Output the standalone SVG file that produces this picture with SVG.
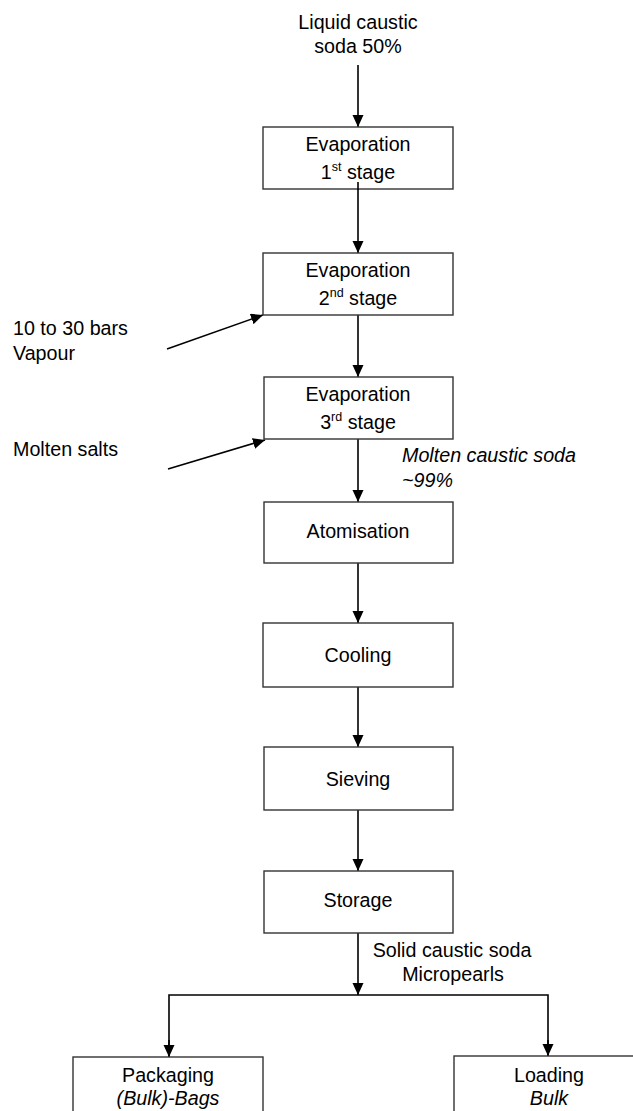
<svg xmlns="http://www.w3.org/2000/svg" width="633" height="1111" viewBox="0 0 633 1111">
<style>
.box{fill:#fff;stroke:#333;stroke-width:1.4}
.t{font-family:"Liberation Sans",Arial,sans-serif;font-size:19.7px;fill:#000}
.m{text-anchor:middle}
.i{font-style:italic}
.sup{font-size:12.5px}
.ln{fill:none;stroke:#000;stroke-width:1.6}
</style>
<defs>
<marker id="ah" markerUnits="userSpaceOnUse" markerWidth="13" markerHeight="12" refX="12" refY="5.5" orient="auto">
<path d="M0,0 L12,5.5 L0,11 z" fill="#000"/>
</marker>
</defs>
<rect width="633" height="1111" fill="#fff"/>
<g id="connectors">
<line class="ln" x1="358" y1="65" x2="358" y2="127" marker-end="url(#ah)"/>
<line class="ln" x1="358" y1="182" x2="358" y2="253" marker-end="url(#ah)"/>
<line class="ln" x1="358" y1="315" x2="358" y2="377" marker-end="url(#ah)"/>
<line class="ln" x1="358" y1="439" x2="358" y2="502" marker-end="url(#ah)"/>
<line class="ln" x1="358" y1="563" x2="358" y2="623" marker-end="url(#ah)"/>
<line class="ln" x1="358" y1="687" x2="358" y2="747" marker-end="url(#ah)"/>
<line class="ln" x1="358" y1="810" x2="358" y2="871" marker-end="url(#ah)"/>
<line class="ln" x1="358" y1="933" x2="358" y2="995" marker-end="url(#ah)"/>
<polyline class="ln" points="169,1057 169,995 548,995 548,1056"/>
<line class="ln" x1="169" y1="1040" x2="169" y2="1057" marker-end="url(#ah)"/>
<line class="ln" x1="548" y1="1040" x2="548" y2="1056" marker-end="url(#ah)"/>
<line class="ln" x1="167" y1="349" x2="263" y2="315" marker-end="url(#ah)"/>
<line class="ln" x1="168" y1="469" x2="265" y2="440" marker-end="url(#ah)"/>
</g>
<g id="input">
<text class="t m" x="358" y="29">Liquid caustic</text>
<text class="t m" x="358" y="53">soda 50%</text>
</g>
<g id="evap1">
<rect class="box" x="263" y="127" width="190" height="62"/>
<text class="t m" x="358" y="151">Evaporation</text>
<text class="t m" x="358" y="179">1<tspan class="sup" dy="-8">st</tspan><tspan dy="8"> stage</tspan></text>
</g>
<line class="ln" x1="358" y1="182" x2="358" y2="190"/>
<g id="evap2">
<rect class="box" x="263" y="253" width="190" height="62"/>
<text class="t m" x="358" y="277">Evaporation</text>
<text class="t m" x="358" y="305">2<tspan class="sup" dy="-8">nd</tspan><tspan dy="8"> stage</tspan></text>
</g>
<g id="evap3">
<rect class="box" x="264" y="377" width="189" height="62"/>
<text class="t m" x="358" y="401">Evaporation</text>
<text class="t m" x="358" y="429">3<tspan class="sup" dy="-8">rd</tspan><tspan dy="8"> stage</tspan></text>
</g>
<g id="atomisation">
<rect class="box" x="264" y="502" width="189" height="61"/>
<text class="t m" x="358" y="538">Atomisation</text>
</g>
<g id="cooling">
<rect class="box" x="263" y="623" width="190" height="64"/>
<text class="t m" x="358" y="662">Cooling</text>
</g>
<g id="sieving">
<rect class="box" x="264" y="747" width="189" height="63"/>
<text class="t m" x="358" y="786">Sieving</text>
</g>
<g id="storage">
<rect class="box" x="264" y="871" width="189" height="62"/>
<text class="t m" x="358" y="907">Storage</text>
</g>
<g id="packaging">
<rect class="box" x="73" y="1057" width="190" height="80"/>
<text class="t m" x="168" y="1082">Packaging</text>
<text class="t m i" x="168" y="1105">(Bulk)-Bags</text>
</g>
<g id="loading">
<rect class="box" x="454" y="1056" width="190" height="80"/>
<text class="t m" x="549" y="1082">Loading</text>
<text class="t m i" x="549" y="1105">Bulk</text>
</g>
<g id="labels">
<text class="t" x="13" y="335">10 to 30 bars</text>
<text class="t" x="13" y="360">Vapour</text>
<text class="t" x="13" y="456">Molten salts</text>
<text class="t i" x="402" y="462">Molten caustic soda</text>
<text class="t i" x="402" y="487">~99%</text>
<text class="t m" x="452" y="957">Solid caustic soda</text>
<text class="t m" x="453" y="981">Micropearls</text>
</g>
</svg>
